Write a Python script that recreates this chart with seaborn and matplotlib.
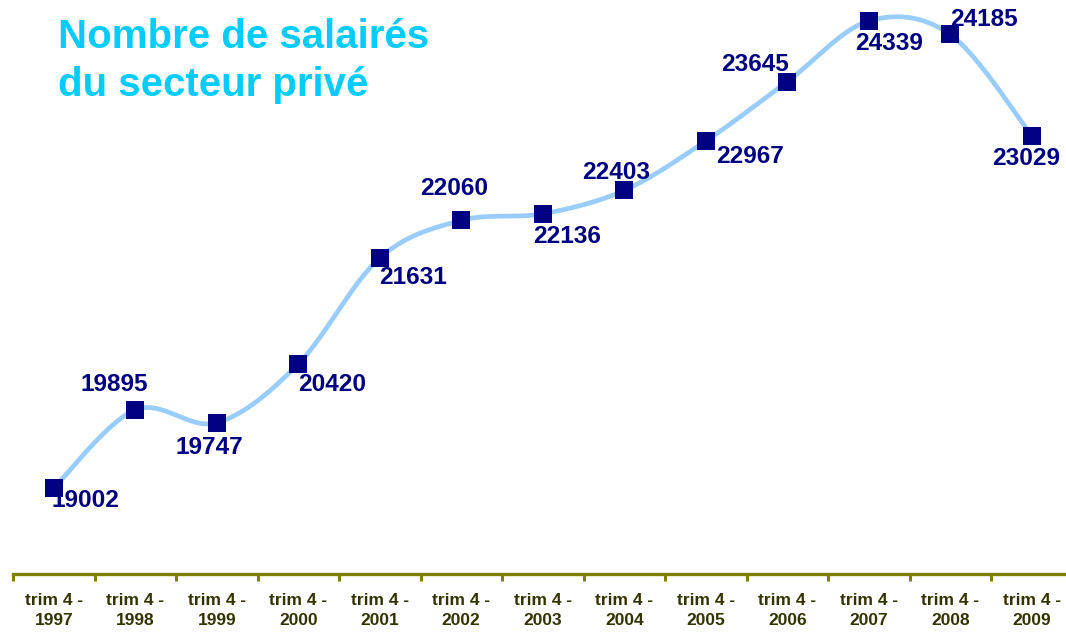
import numpy as np
import pandas as pd
import seaborn as sns
import matplotlib.pyplot as plt

years = ['1997', '1998', '1999', '2000', '2001', '2002', '2003',
         '2004', '2005', '2006', '2007', '2008', '2009']
salaries = [19002, 19895, 19747, 20420, 21631, 22060, 22136,
            22403, 22967, 23645, 24339, 24185, 23029]
tick_labels = ['trim 4 -\n' + y for y in years]

# label offsets in pixels (dx, dy upward positive)
label_offsets = [(32, -13), (-21, 25), (-7, -25), (34, -21), (33, -20),
                 (-7, 32), (24, -23), (-8, 18), (44, -15), (-32, 17),
                 (20, -23), (34, 15), (-6, -23)]

df = pd.DataFrame({'x': np.arange(len(years)), 'salaries': salaries})

# smooth line like a spreadsheet "smoothed line" (Catmull-Rom)
pts = df[['x', 'salaries']].to_numpy(dtype=float)
padded = np.vstack([pts[0], pts, pts[-1]])
sx, sy = [], []
t = np.linspace(0, 1, 30)
for i in range(1, len(padded) - 2):
    p0, p1, p2, p3 = padded[i - 1], padded[i], padded[i + 1], padded[i + 2]
    c1 = p1 + (p2 - p0) / 6
    c2 = p2 - (p3 - p1) / 6
    seg = ((1 - t) ** 3)[:, None] * p1 + (3 * (1 - t) ** 2 * t)[:, None] * c1 \
        + (3 * (1 - t) * t ** 2)[:, None] * c2 + (t ** 3)[:, None] * p2
    sx.extend(seg[:, 0])
    sy.extend(seg[:, 1])
smooth = pd.DataFrame({'x': sx, 'y': sy})

sns.set_style('white')
plt.rcParams['font.family'] = ['Liberation Sans', 'DejaVu Sans']

fig = plt.figure(figsize=(10.66, 6.32), dpi=100)
ax = fig.add_axes([13 / 1066, 58 / 632, 1059.5 / 1066, 574 / 632])

sns.lineplot(data=smooth, x='x', y='y', ax=ax, color='#99CCFF', linewidth=3.4,
             sort=False, estimator=None)
sns.scatterplot(data=df, x='x', y='salaries', ax=ax, marker='s', s=150,
                color='#000080', edgecolor='#000080', linewidth=0, zorder=3)

for i, v in enumerate(salaries):
    dx, dy = label_offsets[i]
    ax.annotate(str(v), (i, v), xytext=(dx * 0.72, dy * 0.72),
                textcoords='offset points', ha='center', va='center',
                fontsize=17.6, fontweight='bold', color='#000080')

ax.set_xlim(-0.5, len(years) - 0.5)
ax.set_ylim(18019, 24579)
ax.set_xticks(df['x'])
ax.set_xticklabels(tick_labels, fontsize=12.5, fontweight='bold',
                   color='#333300', linespacing=1.4)
ax.set_xticks(np.arange(len(years)) - 0.5, minor=True)
ax.tick_params(axis='x', which='major', length=0, pad=14)
ax.tick_params(axis='x', which='minor', length=5, width=2.2,
               color='#808000', direction='out', bottom=True)
ax.set_yticks([])
ax.set_xlabel('')
ax.set_ylabel('')
for s in ['top', 'right', 'left']:
    ax.spines[s].set_visible(False)
ax.spines['bottom'].set_color('#808000')
ax.spines['bottom'].set_linewidth(2.4)

fig.text(58 / 1066, 1 - 61 / 632, 'Nombre de salairés\ndu secteur privé',
         fontsize=29, fontweight='bold', color='#00CCFF', ha='left',
         va='center', linespacing=1.3)

fig.savefig('out.png', dpi=100)
